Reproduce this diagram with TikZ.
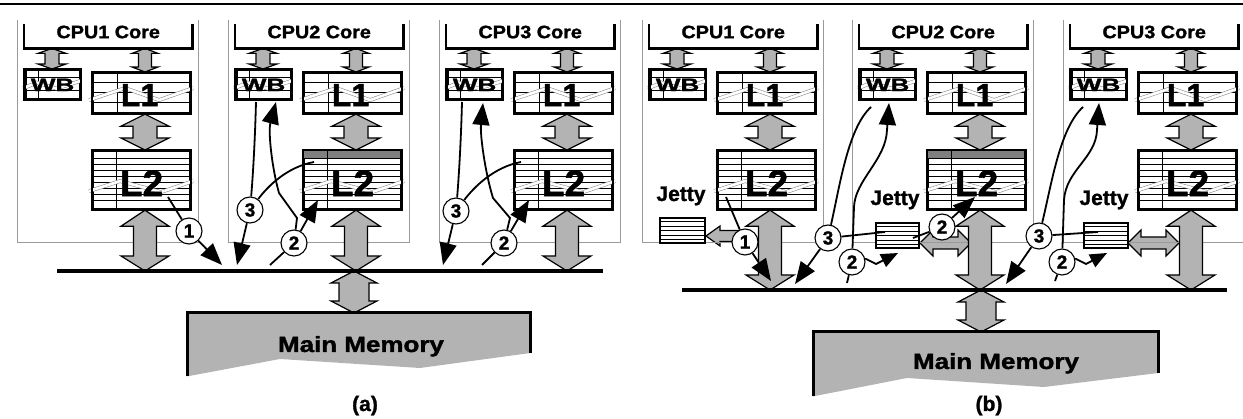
\documentclass[tikz,border=0pt]{standalone}
\usepackage{fontspec}
\usepackage{graphicx}
\setmainfont{Liberation Sans}[BoldFeatures={FakeBold=1.3}]
\usetikzlibrary{arrows.meta,calc}
\pgfdeclarelayer{back}
\pgfsetlayers{back,main}
\definecolor{blockgray}{HTML}{B3B3B3}
\definecolor{rowgray}{HTML}{7F7F7F}
\definecolor{framegray}{HTML}{9A9A9A}
\definecolor{bandgray}{HTML}{8A8A8A}

% vertical two-headed block arrow: #1 top point, #2 bottom point,
% #3 head half width, #4 shaft half width, #5/#6 head lengths (top/bottom)
\newcommand\vblk[6]{%
  \path[blk] let \p1=#1, \p2=#2 in
    (\x1,\y1) -- (\x1+#3pt,\y1-#5pt) -- (\x1+#4pt,\y1-#5pt) -- (\x1+#4pt,\y2+#6pt)
    -- (\x1+#3pt,\y2+#6pt) -- (\x1,\y2) -- (\x1-#3pt,\y2+#6pt) -- (\x1-#4pt,\y2+#6pt)
    -- (\x1-#4pt,\y1-#5pt) -- (\x1-#3pt,\y1-#5pt) -- cycle;}
% horizontal two-headed block arrow: #1 left tip, #2 right tip,
% #3 head half height, #4 shaft half height, #5 head length
\newcommand\hblk[5]{%
  \path[blk] let \p1=#1, \p2=#2 in
    (\x1,\y1) -- (\x1+#5pt,\y1+#3pt) -- (\x1+#5pt,\y1+#4pt) -- (\x2-#5pt,\y1+#4pt)
    -- (\x2-#5pt,\y1+#3pt) -- (\x2,\y1) -- (\x2-#5pt,\y1-#3pt) -- (\x2-#5pt,\y1-#4pt)
    -- (\x1+#5pt,\y1-#4pt) -- (\x1+#5pt,\y1-#3pt) -- cycle;}
% one-headed block arrow pointing left: #1 tip, #2 tail
\newcommand\lblk[5]{%
  \path[blk] let \p1=#1, \p2=#2 in
    (\x1,\y1) -- (\x1+#5pt,\y1+#3pt) -- (\x1+#5pt,\y1+#4pt) -- (\x2,\y1+#4pt)
    -- (\x2,\y1-#4pt) -- (\x1+#5pt,\y1-#4pt) -- (\x1+#5pt,\y1-#3pt) -- cycle;}

\begin{document}
\begin{tikzpicture}[x=1pt,y=-1pt,
  rule/.style={line width=2.6pt},
  colframe/.style={draw=framegray, line width=0.9pt},
  corebox/.style={inner sep=0pt, minimum width=168pt, minimum height=24pt, anchor=north west},
  bracket/.style={line width=2.4pt, line join=miter},
  cachebox/.style={draw=black, fill=white, line width=2.2pt, inner sep=0pt, anchor=north west},
  cacheedge/.style={draw=black, line width=2.2pt},
  gridline/.style={line width=0.7pt},
  band/.style={draw=bandgray, line width=0.55pt, double=white, double distance=2.6pt, line join=miter},
  blk/.style={fill=blockgray, draw=black, line width=1.2pt, line join=miter},
  busline/.style={line width=4pt},
  memframe/.style={inner sep=0pt, anchor=north west},
  memedge/.style={line width=3pt, line join=miter},
  conn/.style={line width=1.8pt},
  arr/.style={conn, -{Triangle[length=22pt,width=17pt]}},
  arrs/.style={conn, -{Triangle[length=17pt,width=14pt]}},
  num/.style={circle, draw=black, line width=1.1pt, fill=white, inner sep=0pt, minimum size=26pt,
    font=\bfseries\fontsize{19}{19}\selectfont},
  corefont/.style={inner sep=0pt, anchor=base, font=\bfseries\fontsize{18}{18}\selectfont},
  wbfont/.style={inner sep=0pt, anchor=base, font=\bfseries\fontsize{18}{18}\selectfont},
  lonefont/.style={inner sep=0pt, anchor=base, font=\bfseries\fontsize{32}{32}\selectfont},
  ltwofont/.style={inner sep=0pt, anchor=base, font=\bfseries\fontsize{37}{37}\selectfont},
  jettyfont/.style={inner sep=0pt, anchor=base, font=\bfseries\fontsize{21}{21}\selectfont},
  memfont/.style={inner sep=0pt, anchor=base, font=\bfseries\fontsize{22}{22}\selectfont},
  capfont/.style={inner sep=0pt, anchor=base, font=\bfseries\fontsize{21}{21}\selectfont},
]
\useasboundingbox (0,0) rectangle (1243,419);
\coordinate (rule-l) at (0,4);
\coordinate (rule-r) at (1243,4);
\draw[rule] (rule-l) -- (rule-r);

% buses and memories
\coordinate (busa-l) at (57,271);  \coordinate (busa-r) at (603,271);
\coordinate (busb-l) at (682,290); \coordinate (busb-r) at (1227,290);
\node[memframe, minimum width=343pt, minimum height=63pt] (mema) at (187,313) {};
\node[memframe, minimum width=345pt, minimum height=64pt] (memb) at (813,332) {};
\coordinate (mxa) at (354,271);
\coordinate (mxb) at (981,290);

% jetty filters
\node[cachebox, minimum width=45pt, minimum height=25pt] (jet1) at (659,217) {};
\node[cachebox, minimum width=43pt, minimum height=25pt] (jet2) at (875,222) {};
\node[cachebox, minimum width=44pt, minimum height=25pt] (jet3) at (1083,222) {};
\foreach \j in {jet1,jet2,jet3}{
  \foreach \k in {1,...,5}{
    \draw[gridline] ($(\j.north west)!\k/6!(\j.south west)$) -- ($(\j.north east)!\k/6!(\j.south east)$);
  }
}
\node[jettyfont] (jt1) at (681,201) {Jetty};
\node[jettyfont] (jt2) at (895,205) {Jetty};
\node[jettyfont] (jt3) at (1104,205) {Jetty};

\coordinate (g1tip) at (706,236);  \coordinate (g1tail) at (748,236);
\coordinate (g2l) at (920,243);    \coordinate (g2r) at (971,243);
\coordinate (g3l) at (1128,243);   \coordinate (g3r) at (1179,243);
\begin{pgfonlayer}{back}
  \lblk{(g1tip)}{(g1tail)}{10}{5.5}{14}
  \hblk{(g2l)}{(g2r)}{13}{6}{13}
  \hblk{(g3l)}{(g3r)}{13}{6}{13}
  \vblk{(mxa)}{(mema.north -| mxa)}{23}{15}{12}{12}
  \vblk{(mxb)}{(memb.north -| mxb)}{23}{15}{12}{12}
\end{pgfonlayer}

% processors
\foreach \pn/\xo/\cpu/\by in {a/17/1/271,a/228/2/271,a/439/3/271,b/642/1/290,b/852/2/290,b/1063/3/290}{
  \node[corebox] (core\pn\cpu) at (\xo+7,24) {};
  \node[cachebox, minimum width=54pt, minimum height=29pt] (wb\pn\cpu) at (\xo+7.5,69) {};
  \node[cachebox, minimum width=97pt, minimum height=40pt] (lone\pn\cpu) at (\xo+75,72) {};
  \node[cachebox, minimum width=97pt, minimum height=58pt] (ltwo\pn\cpu) at (\xo+75,150) {};
  \coordinate (wx\pn\cpu) at (\xo+35,24);
  \coordinate (ax\pn\cpu) at (\xo+128,\by);
  \begin{pgfonlayer}{back}
    \draw[colframe] (\xo,20) -- (\xo,242) -- (\xo+181.5,242) -- (\xo+181.5,20);
    \vblk{(core\pn\cpu.south -| wx\pn\cpu)}{(wb\pn\cpu.north -| wx\pn\cpu)}{14}{7}{5}{5}
    \vblk{(core\pn\cpu.south -| ax\pn\cpu)}{(lone\pn\cpu.north -| ax\pn\cpu)}{13}{6.5}{5}{5}
    \vblk{(lone\pn\cpu.south -| ax\pn\cpu)}{(ltwo\pn\cpu.north -| ax\pn\cpu)}{24}{12}{12}{12}
    \vblk{(ltwo\pn\cpu.south -| ax\pn\cpu)}{(ax\pn\cpu)}{24}{11.5}{16}{15}
  \end{pgfonlayer}
  % core
  \draw[bracket] (core\pn\cpu.north west) -- (core\pn\cpu.south west) -- (core\pn\cpu.south east) -- (core\pn\cpu.north east);
  \node[corefont] (ct\pn\cpu) at ([yshift=-2pt]core\pn\cpu.center) {\scalebox{1.1}[1]{CPU\cpu{} Core}};
  % write buffer
  \draw[gridline] (\xo+21.5,69) -- (\xo+21.5,98);
  \draw[gridline] (\xo+7.5,77) -- (\xo+61.5,77);
  \draw[gridline] (\xo+7.5,90) -- (\xo+61.5,90);
  \draw[band] ([shift={(-30,4)}]wb\pn\cpu.center) -- ([shift={(-16,-2)}]wb\pn\cpu.center)
     -- ([shift={(4,4)}]wb\pn\cpu.center) -- ([shift={(29,-4)}]wb\pn\cpu.center);
  \node[wbfont] (wt\pn\cpu) at ([yshift=-6.5pt]wb\pn\cpu.center) {\scalebox{1.45}[1]{WB}};
  \draw[cacheedge] (wb\pn\cpu.north west) rectangle (wb\pn\cpu.south east);
  % L1
  \draw[gridline] (\xo+100,72) -- (\xo+100,112);
  \foreach \k in {82,92,102}{\draw[gridline] (\xo+75,\k) -- (\xo+172,\k);}
  \draw[band] ([shift={(-52.5,7)}]lone\pn\cpu.center) -- ([shift={(-16.5,-5)}]lone\pn\cpu.center)
     -- ([shift={(17.5,7)}]lone\pn\cpu.center) -- ([shift={(51.5,-5)}]lone\pn\cpu.center);
  \node[lonefont] (l1t\pn\cpu) at ([xshift=-2pt,yshift=-13pt]lone\pn\cpu.center) {L1};
  \draw[cacheedge] (lone\pn\cpu.north west) rectangle (lone\pn\cpu.south east);
  % L2
  \ifnum\cpu=2 \fill[rowgray] (\xo+75,150) rectangle (\xo+172,158.5); \fi
  \draw[gridline] (\xo+99,150) -- (\xo+99,208);
  \foreach \k in {0,...,7}{\draw[gridline] (\xo+75,158.5+6*\k) -- (\xo+172,158.5+6*\k);}
  \draw[band] ([shift={(-52.5,11)}]ltwo\pn\cpu.center) -- ([shift={(-21.5,1)}]ltwo\pn\cpu.center)
     -- ([shift={(19.5,12)}]ltwo\pn\cpu.center) -- ([shift={(51.5,1)}]ltwo\pn\cpu.center);
  \node[ltwofont] (l2t\pn\cpu) at ([yshift=-16pt]ltwo\pn\cpu.center) {L2};
  \draw[cacheedge] (ltwo\pn\cpu.north west) rectangle (ltwo\pn\cpu.south east);
}

% buses
\draw[busline] (busa-l) -- (busa-r);
\draw[busline] (busb-l) -- (busb-r);

% main memories
\fill[blockgray] (mema.north west) -- (mema.north east) -- ++(0,40) -- ($(mema.north west)+(233,55)$)
   -- ($(mema.north west)+(93,46)$) -- (mema.south west) -- cycle;
\draw[memedge] (mema.south west) -- (mema.north west) -- (mema.north east) -- ++(0,40);
\node[memfont] (mmta) at (361,352) {\scalebox{1.18}[1]{Main Memory}};
\fill[blockgray] (memb.north west) -- (memb.north east) -- ++(0,41) -- ($(memb.north west)+(231,55)$)
   -- ($(memb.north west)+(94,46)$) -- (memb.south west) -- cycle;
\draw[memedge] (memb.south west) -- (memb.north west) -- (memb.north east) -- ++(0,41);
\node[memfont] (mmtb) at (996,369) {\scalebox{1.18}[1]{Main Memory}};

\node[capfont] (capa) at (365,411) {(a)};
\node[capfont] (capb) at (989,411) {(b)};

% numbered steps
\node[num] (n1a) at (189,231) {1};
\node[num] (n3a2) at (250,210) {3};
\node[num] (n2a2) at (294,243) {2};
\node[num] (n3a3) at (456,211) {3};
\node[num] (n2a3) at (504,243) {2};
\node[num] (n1b) at (745,242) {1};
\node[num] (n3b2) at (828,238) {3};
\node[num] (n2b2) at (852,262) {2};
\node[num] (n2b2u) at (942,227) {2};
\node[num] (n3b3) at (1039,236) {3};
\node[num] (n2b3) at (1062,262) {2};

% transaction paths, panel (a)
\coordinate (s1a) at (168,197); \coordinate (t1a) at (222,265);
\draw[conn] (s1a) -- (n1a);
\draw[arr] (n1a) -- (t1a);

\coordinate (w3a2) at (256,102); \coordinate (l3a2) at (314,162); \coordinate (t3a2) at (237,265);
\coordinate (s2a2) at (270,265); \coordinate (l2a2) at (318,200); \coordinate (w2a2) at (276,102);
\draw[conn] (w3a2) .. controls (255,140) and (253,175) .. (n3a2);
\draw[conn] (n3a2) .. controls (268,186) and (287,167) .. (l3a2);
\draw[arr] (n3a2) -- (t3a2);
\draw[conn] (s2a2) -- (n2a2);
\draw[arr] (n2a2) -- (l2a2);
\draw[arr] (n2a2) -- (297,218) -- (279,193) .. controls (272,168) and (268,132) .. (w2a2);

\coordinate (w3a3) at (462,102); \coordinate (l3a3) at (521,162); \coordinate (t3a3) at (443,265);
\coordinate (s2a3) at (482,265); \coordinate (l2a3) at (529,200); \coordinate (w2a3) at (483,103);
\draw[conn] (w3a3) .. controls (461,140) and (459,175) .. (n3a3);
\draw[conn] (n3a3) .. controls (474,187) and (494,167) .. (l3a3);
\draw[arr] (n3a3) -- (t3a3);
\draw[conn] (s2a3) -- (n2a3);
\draw[arr] (n2a3) -- (l2a3);
\draw[arr] (n2a3) -- (510,218) -- (493,198) .. controls (485,172) and (480,135) .. (w2a3);

% transaction paths, panel (b)
\coordinate (s1b) at (726,197); \coordinate (t1b) at (771,281);
\draw[conn] (s1b) -- (n1b);
\draw[arr] (n1b) -- (t1b);

\coordinate (w3b2) at (871,107); \coordinate (t3b2) at (795,284); \coordinate (j3b2) at (885,232);
\coordinate (w2b2) at (889,103); \coordinate (d2b2) at (847,283); \coordinate (r2b2) at (898,253);
\coordinate (j2b2) at (913,238); \coordinate (l2b2) at (975,197);
\draw[conn] (w3b2) .. controls (848,128) and (840,185) .. (n3b2);
\draw[arr] (n3b2) -- (t3b2);
\draw[conn] (n3b2) -- (j3b2);
\draw[arr] (n2b2) -- (854,207) .. controls (855,180) and (886,160) .. (887,130) -- (w2b2);
\draw[conn] (n2b2) -- (d2b2);
\draw[arrs] (n2b2) -- (866,259) -- (876,264) -- (r2b2);
\draw[conn] (n2b2u) -- (j2b2);
\draw[arr] (n2b2u) -- (l2b2);

\coordinate (w3b3) at (1083,107); \coordinate (t3b3) at (1006,284); \coordinate (j3b3) at (1098,232);
\coordinate (w2b3) at (1099,103); \coordinate (d2b3) at (1055,281); \coordinate (r2b3) at (1107,253);
\draw[conn] (w3b3) .. controls (1060,128) and (1052,182) .. (n3b3);
\draw[arr] (n3b3) -- (t3b3);
\draw[conn] (n3b3) -- (j3b3);
\draw[arr] (n2b3) -- (1064,200) .. controls (1066,170) and (1096,158) .. (1097,130) -- (w2b3);
\draw[conn] (n2b3) -- (d2b3);
\draw[arrs] (n2b3) -- (1076,259) -- (1086,264) -- (r2b3);
\end{tikzpicture}
\end{document}
